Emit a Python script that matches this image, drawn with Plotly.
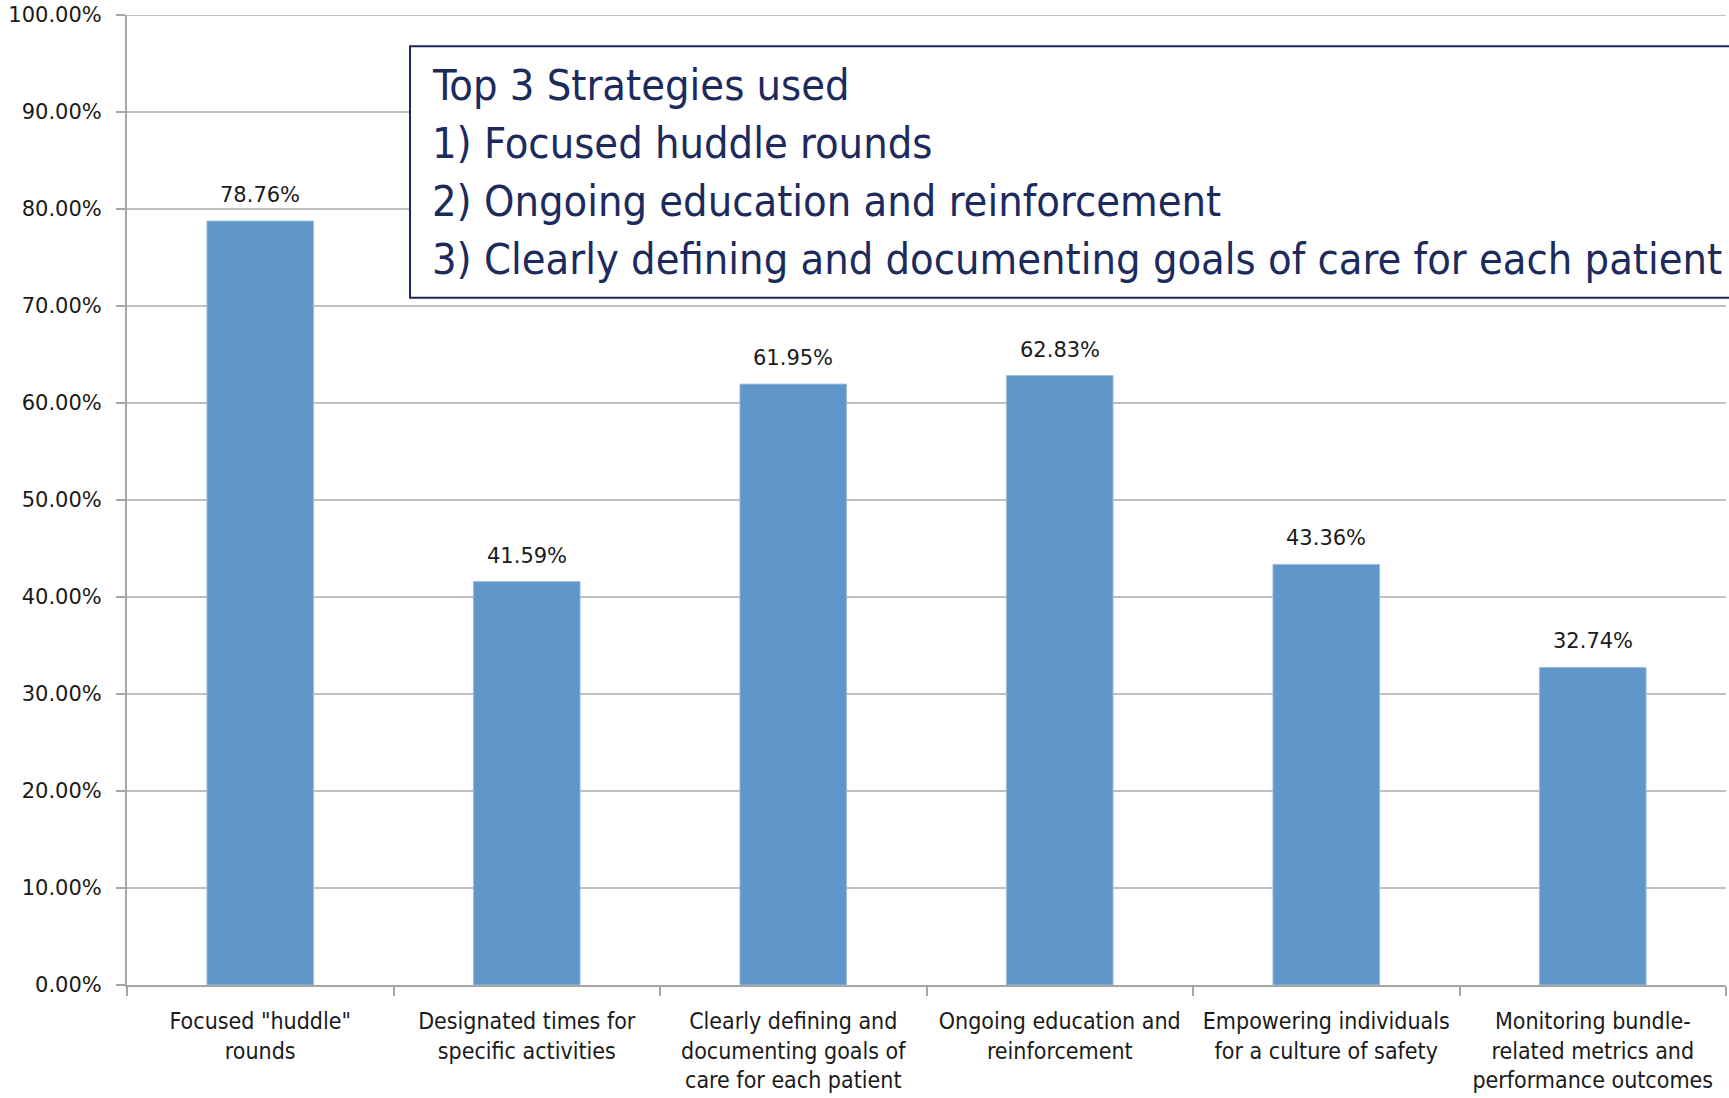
import plotly.graph_objects as go

categories = [
    'Focused "huddle"<br>rounds',
    "Designated times for<br>specific activities",
    "Clearly defining and<br>documenting goals of<br>care for each patient",
    "Ongoing education and<br>reinforcement",
    "Empowering individuals<br>for a culture of safety",
    "Monitoring bundle-<br>related metrics and<br>performance outcomes",
]
percent_used = [78.76, 41.59, 61.95, 62.83, 43.36, 32.74]

y_ticks = [0, 10, 20, 30, 40, 50, 60, 70, 80, 90, 100]
y_tick_labels = [f"{v:.2f}%" for v in y_ticks]

callout_lines = [
    "Top 3 Strategies used",
    "1) Focused huddle rounds",
    "2) Ongoing education and reinforcement",
    "3) Clearly defining and documenting goals of care for each patient",
]

NARROW = "DejaVu Sans Condensed, Liberation Sans Narrow, sans-serif"
NAVY = "#1c2a5c"
GRID = "#bfbfbf"

fig = go.Figure()

fig.add_trace(
    go.Bar(
        x=categories,
        y=percent_used,
        marker=dict(color="#6196ca", line=dict(color="#9dbde0", width=1)),
        width=0.4,
        showlegend=False,
        hovertemplate="%{y:.2f}%<extra></extra>",
    )
)

# value labels sit a little higher above the bars than plotly's own outside text
for cat, val in zip(categories, percent_used):
    fig.add_annotation(
        x=cat,
        y=val,
        text=f"{val:.2f}%",
        showarrow=False,
        yanchor="bottom",
        yshift=12,
        font=dict(family="DejaVu Sans, sans-serif", size=21, color="#1a1a1a"),
    )

fig.update_xaxes(
    showline=True,
    linecolor="#a6a6a6",
    linewidth=2,
    ticks="outside",
    tickson="boundaries",
    ticklen=9,
    tickcolor="#a6a6a6",
    tickwidth=1.5,
    tickangle=0,
    ticklabelstandoff=14,
    automargin=False,
    tickfont=dict(family=NARROW, size=23, color="#1a1a1a"),
    showgrid=False,
)

fig.update_yaxes(
    range=[0, 100],
    tickvals=y_ticks,
    ticktext=y_tick_labels,
    showline=True,
    linecolor="#a6a6a6",
    linewidth=2,
    ticks="outside",
    ticklen=9,
    tickcolor="#a6a6a6",
    tickwidth=1.5,
    ticklabelstandoff=10,
    automargin=False,
    tickfont=dict(family="DejaVu Sans, sans-serif", size=21, color="#1a1a1a"),
    showgrid=True,
    gridcolor=GRID,
    gridwidth=2,
    zeroline=False,
)

# plotly skips the gridline sitting on the top edge, so draw it
fig.add_shape(
    type="line",
    xref="paper",
    yref="y",
    x0=0,
    x1=1,
    y0=y_ticks[-1],
    y1=y_ticks[-1],
    line=dict(color=GRID, width=2),
    layer="below",
)

# callout box, running off the right edge like the original slide
fig.add_shape(
    type="rect",
    xref="paper",
    yref="paper",
    x0=0.177,
    x1=1.05,
    y0=0.7086,
    y1=0.9677,
    line=dict(color=NAVY, width=2),
    fillcolor="white",
    layer="above",
)
line_y = [0.928, 0.868, 0.808, 0.748]
for txt, yy in zip(callout_lines, line_y):
    fig.add_annotation(
        xref="paper",
        yref="paper",
        x=0.1895,
        y=yy,
        xanchor="left",
        yanchor="middle",
        align="left",
        showarrow=False,
        text=txt,
        font=dict(family=NARROW, size=43, color=NAVY),
    )

fig.update_layout(
    width=1729,
    height=1098,
    margin=dict(l=127, r=3, t=15, b=113),
    plot_bgcolor="white",
    paper_bgcolor="white",
    bargap=0.6,
)

# drop the browser's default 8px body margin so the figure fills the window
fig.write_html(
    "out.html",
    config={"displayModeBar": False},
    post_script="document.body.style.margin='0';",
)
